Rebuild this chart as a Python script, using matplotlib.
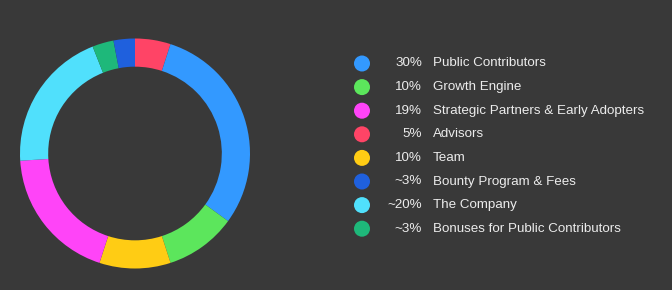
import matplotlib.pyplot as plt
from matplotlib.patches import Circle

# legend order
labels = ["Public Contributors", "Growth Engine", "Strategic Partners & Early Adopters",
          "Advisors", "Team", "Bounty Program & Fees", "The Company",
          "Bonuses for Public Contributors"]
pct_text = ["30%", "10%", "19%", "5%", "10%", "~3%", "~20%", "~3%"]
values = [30, 10, 19, 5, 10, 3, 20, 3]
colors = ["#3399ff", "#5ce65c", "#ff44f8", "#ff4466", "#ffcc14", "#1f60dd", "#50e0fc", "#1eb87a"]

# order of the slices clockwise from 12 o'clock
pie_order = [3, 0, 1, 4, 2, 6, 7, 5]

bg = "#393939"
W, H = 672, 290
fig = plt.figure(figsize=(W / 100, H / 100), dpi=100, facecolor=bg)

# donut
cx, cy, r = 135, 153.5, 115
ax = fig.add_axes([(cx - r) / W, (H - cy - r) / H, 2 * r / W, 2 * r / H])
ax.pie([values[i] for i in pie_order], colors=[colors[i] for i in pie_order],
       startangle=90, counterclock=False, radius=1,
       wedgeprops=dict(width=0.245, edgecolor="none", linewidth=0))
ax.set_xlim(-1, 1)
ax.set_ylim(-1, 1)
ax.set_aspect("equal")
ax.axis("off")

# legend drawn in pixel coords
lx = fig.add_axes([0, 0, 1, 1])
lx.set_xlim(0, W)
lx.set_ylim(H, 0)
lx.axis("off")
lx.patch.set_alpha(0)

y0, dy = 63.5, 23.6
for i, lab in enumerate(labels):
    y = y0 + i * dy
    lx.add_patch(Circle((362, y), 8, color=colors[i], lw=0))
    lx.text(422, y, pct_text[i], ha="right", va="center", color="#ececec",
            fontsize=9.6, family="Liberation Sans")
    lx.text(433, y, lab, ha="left", va="center", color="#ececec",
            fontsize=9.6, family="Liberation Sans")

fig.savefig("out.png", dpi=100, facecolor=bg)
